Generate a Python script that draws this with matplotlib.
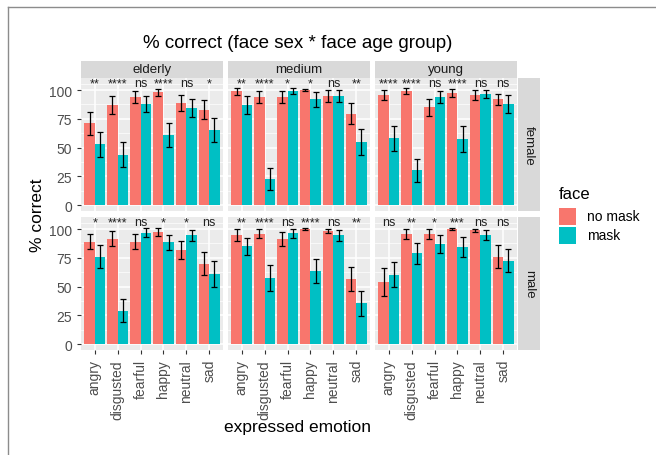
import matplotlib
matplotlib.use("Agg")
import matplotlib.pyplot as plt
import numpy as np
from matplotlib.patches import Rectangle
from matplotlib.lines import Line2D

plt.rcParams['font.family'] = ['Liberation Sans', 'DejaVu Sans']

emotions = ["angry", "disgusted", "fearful", "happy", "neutral", "sad"]
age_groups = ["elderly", "medium", "young"]
face_sex = ["female", "male"]
face_levels = ["no mask", "mask"]

# mean % correct and error half-widths, per face sex / age group
female_elderly_nomask = [71, 87, 94, 98, 89, 83]
female_elderly_mask = [53, 44, 88, 61, 84.5, 65]
female_elderly_nomask_err = [10, 7.5, 5.5, 3, 7, 8]
female_elderly_mask_err = [11, 11, 7, 10.5, 8, 10.5]
female_elderly_sig = ["**", "****", "ns", "****", "ns", "*"]

female_medium_nomask = [99, 94, 94, 100, 95, 79.5]
female_medium_mask = [87, 23, 99, 92, 95, 55]
female_medium_nomask_err = [3, 5.5, 5.5, 1, 5, 9]
female_medium_mask_err = [7.5, 9.5, 2.5, 6.5, 5, 11.5]
female_medium_sig = ["**", "****", "*", "*", "ns", "**"]

female_young_nomask = [95.5, 99, 85, 97.5, 95.5, 92]
female_young_mask = [58, 30.5, 94, 57.5, 97, 88]
female_young_nomask_err = [4.5, 2.5, 7.5, 3.5, 4.5, 5]
female_young_mask_err = [11, 10, 5.5, 11, 3.5, 7.5]
female_young_sig = ["****", "****", "ns", "****", "ns", "ns"]

male_elderly_nomask = [89, 91.5, 89, 97.5, 82, 70]
male_elderly_mask = [76, 29, 97, 88.5, 94.5, 61]
male_elderly_nomask_err = [6.5, 6.5, 6.5, 3.5, 8, 10]
male_elderly_mask_err = [10, 10, 4, 6.5, 5, 11]
male_elderly_sig = ["*", "****", "ns", "*", "*", "ns"]

male_medium_nomask = [95, 96, 91.5, 100, 98.5, 57]
male_medium_mask = [85, 57.5, 96.5, 63.5, 94.5, 35.5]
male_medium_nomask_err = [5, 4, 6, 1, 2, 10.5]
male_medium_mask_err = [7.5, 11, 4, 10.5, 5, 11]
male_medium_sig = ["**", "****", "ns", "****", "ns", "**"]

male_young_nomask = [54, 96, 96, 100, 99, 76]
male_young_mask = [60.5, 79, 87, 84.5, 95, 72.5]
male_young_nomask_err = [12, 4.5, 4.5, 1, 1.5, 10]
male_young_mask_err = [11, 9, 7.5, 8.5, 4.5, 10]
male_young_sig = ["ns", "**", "*", "***", "ns", "ns"]

panels = {
    ("female", "elderly"): (female_elderly_nomask, female_elderly_mask,
                            female_elderly_nomask_err, female_elderly_mask_err, female_elderly_sig),
    ("female", "medium"): (female_medium_nomask, female_medium_mask,
                           female_medium_nomask_err, female_medium_mask_err, female_medium_sig),
    ("female", "young"): (female_young_nomask, female_young_mask,
                          female_young_nomask_err, female_young_mask_err, female_young_sig),
    ("male", "elderly"): (male_elderly_nomask, male_elderly_mask,
                          male_elderly_nomask_err, male_elderly_mask_err, male_elderly_sig),
    ("male", "medium"): (male_medium_nomask, male_medium_mask,
                         male_medium_nomask_err, male_medium_mask_err, male_medium_sig),
    ("male", "young"): (male_young_nomask, male_young_mask,
                        male_young_nomask_err, male_young_mask_err, male_young_sig),
}

RED = "#F8766D"
TEAL = "#00BFC4"
PANEL_BG = "#EBEBEB"
STRIP_BG = "#D9D9D9"
TICK_COL = "#4D4D4D"

W, H = 656, 456
fig = plt.figure(figsize=(W / 100, H / 100), dpi=100)


def fx(px):
    return px / W


def fy(py):
    return 1 - py / H


# panel geometry in pixels
col_left = [81, 228, 375]
col_w = 142
row_top = [79, 218]
row_h = 133
strip_h = 17
rstrip_w = 22

x = np.arange(len(emotions))
bw = 0.45

for r, sex in enumerate(face_sex):
    for c, age in enumerate(age_groups):
        l = col_left[c]
        t = row_top[r]
        ax = fig.add_axes([fx(l), fy(t + row_h), fx(col_w), row_h / H])
        ax.set_facecolor(PANEL_BG)
        nomask, mask, e1, e2, sig = panels[(sex, age)]
        ax.set_yticks([0, 25, 50, 75, 100])
        ax.set_yticks([12.5, 37.5, 62.5, 87.5, 105], minor=True)
        ax.set_xticks(x)
        ax.grid(True, which="major", color="white", lw=1.1)
        ax.grid(True, which="minor", axis="y", color="white", lw=0.5)
        ax.set_axisbelow(True)
        ax.bar(x - bw / 2, nomask, width=bw, color=RED, zorder=2)
        ax.bar(x + bw / 2, mask, width=bw, color=TEAL, zorder=2)
        ax.errorbar(x - bw / 2, nomask, yerr=e1, fmt="none", ecolor="black",
                    elinewidth=0.9, capsize=2, capthick=0.9, zorder=3)
        ax.errorbar(x + bw / 2, mask, yerr=e2, fmt="none", ecolor="black",
                    elinewidth=0.9, capsize=2, capthick=0.9, zorder=3)
        for xi, s in zip(x, sig):
            ax.text(xi, 106, s, ha="center", va="center", fontsize=9,
                    color="#222222", zorder=4)
        ax.set_xlim(-0.6, 5.6)
        ax.set_ylim(-5, 110.5)
        for sp in ax.spines.values():
            sp.set_visible(False)
        ax.tick_params(axis="both", which="both", colors="#333333", length=3,
                       width=0.8, labelcolor=TICK_COL, labelsize=10)
        ax.tick_params(axis="y", which="minor", length=0)
        if c == 0:
            ax.set_yticklabels(["0", "25", "50", "75", "100"])
        else:
            ax.tick_params(axis="y", which="major", length=0, labelleft=False)
        if r == 1:
            ax.set_xticklabels(emotions, rotation=90, va="top", ha="center")
        else:
            ax.tick_params(axis="x", length=0, labelbottom=False)

        # top strips
        if r == 0:
            fig.patches.append(Rectangle((fx(l), fy(t)), fx(col_w), strip_h / H,
                                         transform=fig.transFigure,
                                         facecolor=STRIP_BG, edgecolor="none"))
            fig.text(fx(l + col_w / 2), fy(t - strip_h / 2), age, ha="center",
                     va="center", fontsize=9.5, color="#1A1A1A")
        # right strips
        if c == 2:
            sl = l + col_w + 1
            fig.patches.append(Rectangle((fx(sl), fy(t + row_h)), fx(rstrip_w), row_h / H,
                                         transform=fig.transFigure,
                                         facecolor=STRIP_BG, edgecolor="none"))
            fig.text(fx(sl + rstrip_w / 2), fy(t + row_h / 2), sex, ha="center",
                     va="center", rotation=-90, fontsize=9.5, color="#1A1A1A")

# titles and axis labels
fig.text(fx(298), fy(43), "% correct (face sex * face age group)", ha="center",
         va="center", fontsize=13.5, color="black")
fig.text(fx(298), fy(428), "expressed emotion", ha="center", va="center",
         fontsize=12.5, color="black")
fig.text(fx(38), fy(215), "% correct", ha="center", va="center", rotation=90,
         fontsize=12.5, color="black")

# legend
fig.text(fx(559), fy(195), "face", ha="left", va="center", fontsize=12, color="black")
for i, (lab, col) in enumerate(zip(face_levels, [RED, TEAL])):
    top = 209 + i * 18.5
    fig.patches.append(Rectangle((fx(559), fy(top + 17)), fx(17), 17 / H,
                                 transform=fig.transFigure, facecolor=col,
                                 edgecolor="none"))
    fig.text(fx(587), fy(top + 8.5), lab, ha="left", va="center", fontsize=10,
             color="black")

# thin frame on the top and left edges
fig.add_artist(Line2D([fx(7.5), 1], [fy(8), fy(8)], transform=fig.transFigure,
                      color="#8C8C8C", lw=1))
fig.add_artist(Line2D([fx(7.5), fx(7.5)], [0, fy(8)], transform=fig.transFigure,
                      color="#8C8C8C", lw=1))

fig.savefig("out.png", dpi=100, facecolor="white")
